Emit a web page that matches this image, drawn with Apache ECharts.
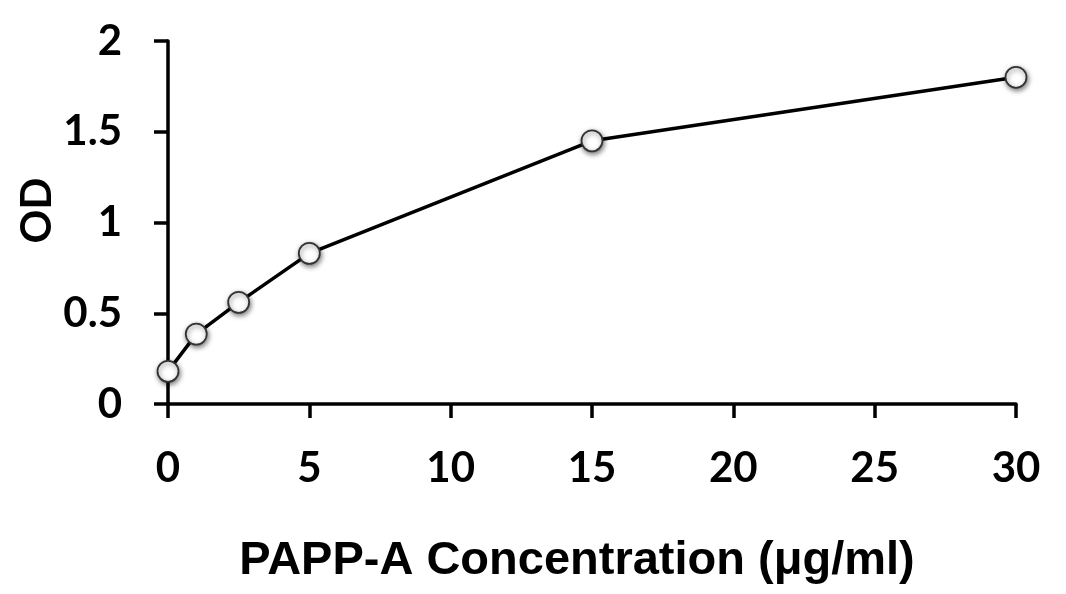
<!DOCTYPE html>
<html>
<head>
<meta charset="utf-8">
<script src="https://cdn.jsdelivr.net/npm/echarts@6/dist/echarts.min.js"></script>
<style>
html,body{margin:0;padding:0;background:#fff;}
#chart{width:1066px;height:594px;}
</style>
</head>
<body>
<div id="chart"></div>
<script>
var concentrations = [0, 1, 2.5, 5, 15, 30];
var odValues = [0.18, 0.385, 0.56, 0.83, 1.45, 1.80];
var xTitle = 'PAPP-A Concentration (μg/ml)';
var yTitle = 'OD';

var chart = echarts.init(document.getElementById('chart'));
var data = concentrations.map(function (c, i) { return [c, odValues[i]]; });
chart.setOption({
  backgroundColor: '#ffffff',
  animation: false,
  grid: { left: 168, right: 50, top: 41, bottom: 190, containLabel: false },
  xAxis: {
    type: 'value', min: 0, max: 30, interval: 5,
    name: xTitle, nameLocation: 'middle', nameGap: 134, nameMoveOverlap: false,
    nameTextStyle: { fontFamily: 'Liberation Sans', fontWeight: 'bold', fontSize: 47, color: '#000', padding: [0, 30, 0, 0] },
    axisLine: { show: true, onZero: false, lineStyle: { color: '#000', width: 3.5 } },
    axisTick: { show: true, length: 14, lineStyle: { color: '#000', width: 3.5 } },
    axisLabel: { margin: 43, fontFamily: 'Lato', fontWeight: 'bold', fontSize: 42, color: '#000' },
    splitLine: { show: false }
  },
  yAxis: {
    type: 'value', min: 0, max: 2, interval: 0.5,
    name: yTitle, nameLocation: 'middle', nameGap: 110, nameRotate: 90, nameMoveOverlap: false,
    nameTextStyle: { fontFamily: 'Lato', fontWeight: 'bold', fontSize: 42, color: '#000', padding: [0, 0, 0, 24] },
    axisLine: { show: true, onZero: false, lineStyle: { color: '#000', width: 3.5 } },
    axisTick: { show: true, length: 14, lineStyle: { color: '#000', width: 3.5 } },
    axisLabel: { margin: 46, fontFamily: 'Lato', fontWeight: 'bold', fontSize: 42, color: '#000' },
    splitLine: { show: false }
  },
  series: [{
    type: 'line',
    data: data,
    symbol: 'circle',
    symbolSize: 21,
    lineStyle: { color: '#000', width: 3.5 },
    itemStyle: {
      color: '#ffffff', borderColor: '#333', borderWidth: 1.8,
      shadowColor: 'rgba(0,0,0,0.5)', shadowBlur: 5, shadowOffsetX: 1, shadowOffsetY: 2
    },
    z: 3
  }]
});
</script>
</body>
</html>
